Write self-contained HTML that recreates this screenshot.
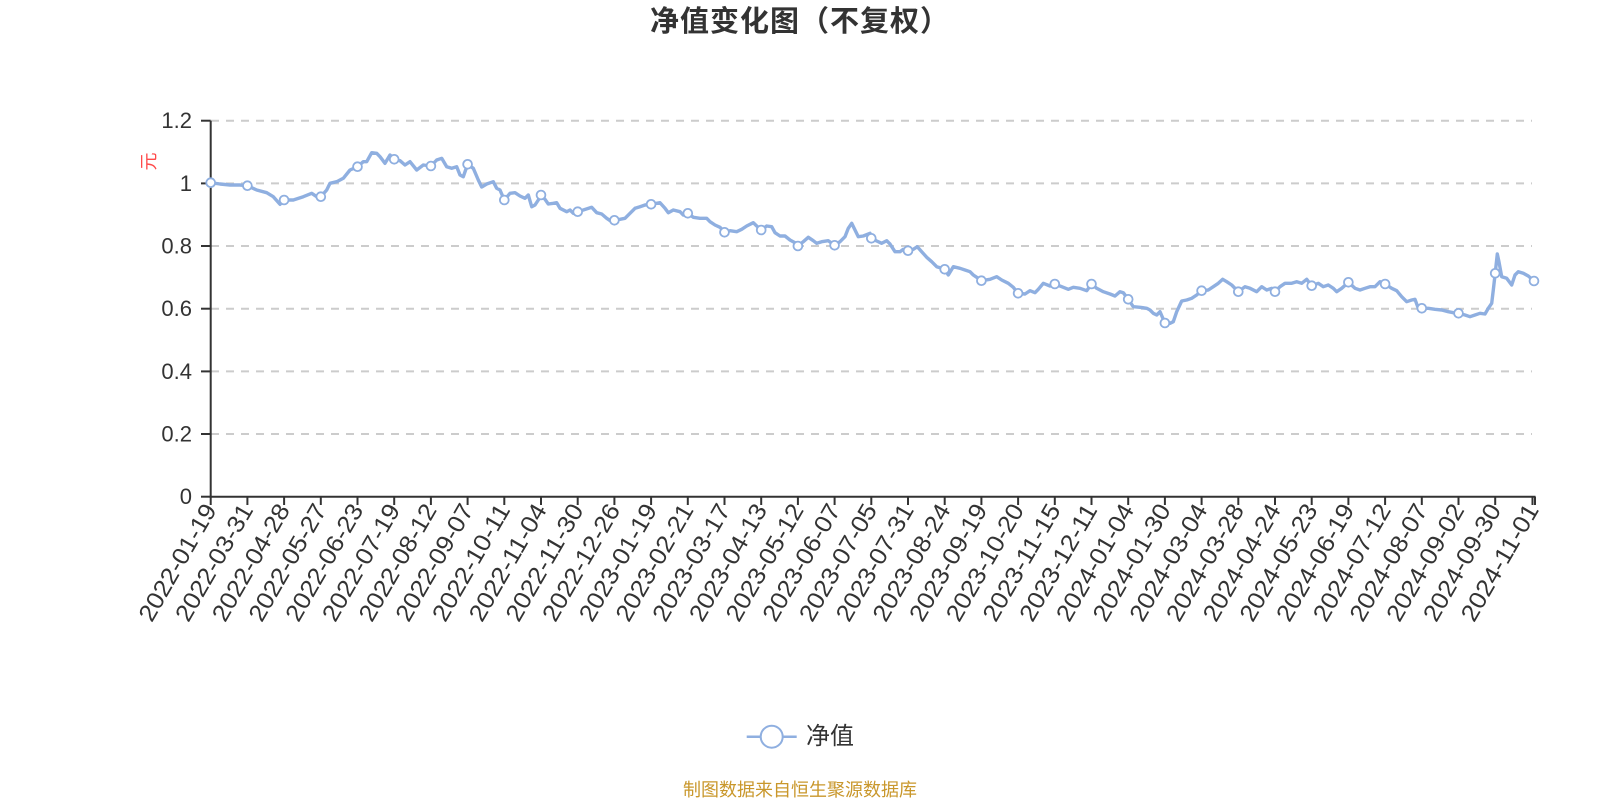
<!DOCTYPE html>
<html>
<head>
<meta charset="utf-8">
<style>
  html,body{margin:0;padding:0;background:#fff;}
  svg{display:block;}
  text{font-family:"Liberation Sans","Noto Sans CJK SC",sans-serif;}
</style>
</head>
<body>
<svg width="1600" height="800" viewBox="0 0 1600 800" xmlns="http://www.w3.org/2000/svg">
  <rect x="0" y="0" width="1600" height="800" fill="#fff"/>
  <!-- Title -->
  <text x="800" y="22" text-anchor="middle" dominant-baseline="central" font-size="29" font-weight="bold" fill="#333" letter-spacing="1">净值变化图（不复权）</text>

  <!-- Y axis name -->
  <text transform="translate(149,161.5) rotate(-90)" text-anchor="middle" dominant-baseline="central" font-size="18" fill="#ff4a4a">元</text>

  <!-- grid lines -->
  <g stroke="#cccccc" stroke-width="2" stroke-dasharray="8 7" fill="none">
    <line x1="211" y1="120.7" x2="1532" y2="120.7"/>
    <line x1="211" y1="183.4" x2="1532" y2="183.4"/>
    <line x1="211" y1="246.0" x2="1532" y2="246.0"/>
    <line x1="211" y1="308.7" x2="1532" y2="308.7"/>
    <line x1="211" y1="371.4" x2="1532" y2="371.4"/>
    <line x1="211" y1="434.0" x2="1532" y2="434.0"/>
  </g>

  <!-- Y labels -->
  <g font-size="22" fill="#333" text-anchor="end" dominant-baseline="central">
    <text x="192" y="120.7">1.2</text>
    <text x="192" y="183.4">1</text>
    <text x="192" y="246.0">0.8</text>
    <text x="192" y="308.7">0.6</text>
    <text x="192" y="371.4">0.4</text>
    <text x="192" y="434.0">0.2</text>
    <text x="192" y="496.7">0</text>
  </g>

  <!-- axes -->
  <g stroke="#333" stroke-width="2" fill="none">
    <line x1="210.7" y1="120.7" x2="210.7" y2="497.7"/>
    <line x1="209.7" y1="496.7" x2="1535.5" y2="496.7"/>
    <line x1="201" y1="120.7" x2="210.7" y2="120.7"/>
    <line x1="201" y1="183.4" x2="210.7" y2="183.4"/>
    <line x1="201" y1="246.0" x2="210.7" y2="246.0"/>
    <line x1="201" y1="308.7" x2="210.7" y2="308.7"/>
    <line x1="201" y1="371.4" x2="210.7" y2="371.4"/>
    <line x1="201" y1="434.0" x2="210.7" y2="434.0"/>
    <line x1="201" y1="496.7" x2="210.7" y2="496.7"/>
  </g>

  <!-- series line -->
  <polyline fill="none" stroke="#8fafe0" stroke-width="3.4" stroke-linejoin="round" stroke-linecap="round" points="
210.7,182.7 220,184 230,185 240,185 247.4,185.7 256.7,190 266.7,192.7 273.3,196.7 280,204.3 284.1,200 286.7,200 293.3,200 303.3,196.7 311.7,193.3 316.7,196.7 320.8,196.7 326.7,190 330,183.3 336.7,181.7 343.3,178.3 350,170 357.5,166.7 363.3,161.7 366.7,161.7 371.7,152.7 376.7,153.3 380,156.7 385,163.3 390,155 394.2,159.3 400,160.7 405,165 410,161.7 416.7,170 423.3,165 430.9,166 436.7,160 441.7,158.3 446.7,166.7 451.7,168.3 456.7,166.7 460,175 463.3,176.7 467.6,164.3 473.3,168.3 478.3,180 481.7,187 486.7,184 493.3,181.7 496.7,188.3 500,190 504.3,200 510,193.3 515,192.7 520,196 525,198.3 528.3,195 531.7,206.7 535,205 538.3,200 541,195 545,199.3 548.3,204 553.3,203.3 556.7,202.7 560,208.3 566.7,211.7 570,210 573.3,213.3 577.7,211.7 583.3,210 591.7,207.3 596.7,212.7 601.7,214 606.7,218.3 611.7,221.7 614.4,220.3 620,219.3 625,218.3 630,213.3 635,208.3 640,206.7 645,205 651.1,204.3 660,202.7 665,208.3 668.3,212.7 673.3,210 680,211.7 683.3,215 687.8,213.3 693.3,217.3 700,218.3 706.7,218.3 710,221.7 715,225 720,227.3 724.5,232.3 730,230.7 736.7,231.7 741.7,229.3 746.7,226 753.3,222.7 756.7,226 761.2,230 766.7,226 771.7,226.7 775,232.7 780,236 785,236 790,240 795,242.7 797.9,246 803.3,241.7 808.3,237.3 813.3,240.7 816.7,243.3 821.7,241.7 828.3,240.7 834.6,245.3 840,241.7 845,236.7 848.3,228.3 851.7,223.3 855,230 858.3,236.7 863.3,236 870,233.3 871.3,238.3 876.7,241 881.7,243.3 886.7,240.7 890,244 895,251.7 900,251.7 903.3,249.3 908,250.7 913.3,249.3 917.3,246.7 921.7,251.7 926.7,257.3 931.7,261.7 936.7,266.7 941.7,268.3 944.7,269.3 948.3,275 953.3,266.7 960,268.3 965,270 970,271.7 973.3,275 976.7,277.3 981.4,280.7 990,279.3 996.7,276.7 1001.7,280 1008.3,283.3 1013.3,287.3 1018.1,293.3 1025,294 1030,290.7 1035,292.7 1038.3,289.3 1043.3,283.3 1050,286 1054.8,284 1061.7,286.7 1068.3,289.3 1073.3,287.3 1080,288.3 1086.7,290.7 1091.5,284 1096.7,288.3 1103.3,291.7 1110,294 1115,296 1120,291.7 1123.3,292.7 1128.2,299.3 1133.3,306.7 1140,307.3 1146.7,308.3 1150,310 1153.3,313.3 1156.7,315 1160,311.7 1164.9,323 1170,323.3 1173.3,321.7 1176.7,311.7 1181.7,301 1186.7,300 1191.7,298.3 1196.7,295 1201.6,290.7 1208.3,290 1213.3,286.7 1218.3,283.3 1222.7,279.3 1226.7,281.7 1231.7,285 1238.3,291.7 1245,286.7 1250,288.3 1256.7,291.7 1261.7,286.7 1266.7,290 1271.7,288.3 1275,291.7 1280,286.7 1285,283.3 1291.7,283.3 1296.7,281.7 1301.7,283.3 1306.7,279.3 1311.7,285.7 1318.3,283.3 1323.3,286.7 1328.3,285 1333.3,288.3 1336.7,291.7 1341.7,288.3 1348.4,282.3 1355,288.3 1360,290 1365,288.3 1370,286.7 1375,286.7 1380,281.7 1385.1,284 1391.7,288.3 1396.7,290.7 1401.7,296.7 1406.7,301.7 1411.7,300 1415,299.3 1418.3,308.3 1421.8,308.3 1428.3,308.3 1435,309.3 1441.7,310 1448.3,311.7 1453.3,312.7 1458.5,313.3 1465,315 1470,316.7 1475,315 1480,313.3 1485,314 1488.3,308.3 1491.7,303.3 1493.3,290 1495.2,273.3 1497.3,254 1499,262 1501.7,276.7 1506.7,278.3 1511.7,285 1515,275 1518.3,271.7 1523.3,273.3 1528.3,276 1534,281"/>

  <!-- markers -->
  <g fill="#fff" stroke="#8fafe0" stroke-width="1.8">
    <circle cx="210.7" cy="182.7" r="4.4"/>
    <circle cx="247.4" cy="185.7" r="4.4"/>
    <circle cx="284.1" cy="200" r="4.4"/>
    <circle cx="320.8" cy="196.7" r="4.4"/>
    <circle cx="357.5" cy="166.7" r="4.4"/>
    <circle cx="394.2" cy="159.3" r="4.4"/>
    <circle cx="430.9" cy="166" r="4.4"/>
    <circle cx="467.6" cy="164.3" r="4.4"/>
    <circle cx="504.3" cy="200" r="4.4"/>
    <circle cx="541" cy="195" r="4.4"/>
    <circle cx="577.7" cy="211.7" r="4.4"/>
    <circle cx="614.4" cy="220.3" r="4.4"/>
    <circle cx="651.1" cy="204.3" r="4.4"/>
    <circle cx="687.8" cy="213.3" r="4.4"/>
    <circle cx="724.5" cy="232.3" r="4.4"/>
    <circle cx="761.2" cy="230" r="4.4"/>
    <circle cx="797.9" cy="246" r="4.4"/>
    <circle cx="834.6" cy="245.3" r="4.4"/>
    <circle cx="871.3" cy="238.3" r="4.4"/>
    <circle cx="908" cy="250.7" r="4.4"/>
    <circle cx="944.7" cy="269.3" r="4.4"/>
    <circle cx="981.4" cy="280.7" r="4.4"/>
    <circle cx="1018.1" cy="293.3" r="4.4"/>
    <circle cx="1054.8" cy="284" r="4.4"/>
    <circle cx="1091.5" cy="284" r="4.4"/>
    <circle cx="1128.2" cy="299.3" r="4.4"/>
    <circle cx="1164.9" cy="323" r="4.4"/>
    <circle cx="1201.6" cy="290.7" r="4.4"/>
    <circle cx="1238.3" cy="291.7" r="4.4"/>
    <circle cx="1275" cy="291.7" r="4.4"/>
    <circle cx="1311.7" cy="285.7" r="4.4"/>
    <circle cx="1348.4" cy="282.3" r="4.4"/>
    <circle cx="1385.1" cy="284" r="4.4"/>
    <circle cx="1421.8" cy="308.3" r="4.4"/>
    <circle cx="1458.5" cy="313.3" r="4.4"/>
    <circle cx="1495.2" cy="273.3" r="4.4"/>
    <circle cx="1534" cy="281" r="4.4"/>
  </g>

  <!-- x ticks -->
  <g stroke="#333" stroke-width="2">
    <line x1="210.7" y1="496.7" x2="210.7" y2="505"/>
    <line x1="247.4" y1="496.7" x2="247.4" y2="505"/>
    <line x1="284.1" y1="496.7" x2="284.1" y2="505"/>
    <line x1="320.8" y1="496.7" x2="320.8" y2="505"/>
    <line x1="357.5" y1="496.7" x2="357.5" y2="505"/>
    <line x1="394.2" y1="496.7" x2="394.2" y2="505"/>
    <line x1="430.9" y1="496.7" x2="430.9" y2="505"/>
    <line x1="467.6" y1="496.7" x2="467.6" y2="505"/>
    <line x1="504.3" y1="496.7" x2="504.3" y2="505"/>
    <line x1="541" y1="496.7" x2="541" y2="505"/>
    <line x1="577.7" y1="496.7" x2="577.7" y2="505"/>
    <line x1="614.4" y1="496.7" x2="614.4" y2="505"/>
    <line x1="651.1" y1="496.7" x2="651.1" y2="505"/>
    <line x1="687.8" y1="496.7" x2="687.8" y2="505"/>
    <line x1="724.5" y1="496.7" x2="724.5" y2="505"/>
    <line x1="761.2" y1="496.7" x2="761.2" y2="505"/>
    <line x1="797.9" y1="496.7" x2="797.9" y2="505"/>
    <line x1="834.6" y1="496.7" x2="834.6" y2="505"/>
    <line x1="871.3" y1="496.7" x2="871.3" y2="505"/>
    <line x1="908" y1="496.7" x2="908" y2="505"/>
    <line x1="944.7" y1="496.7" x2="944.7" y2="505"/>
    <line x1="981.4" y1="496.7" x2="981.4" y2="505"/>
    <line x1="1018.1" y1="496.7" x2="1018.1" y2="505"/>
    <line x1="1054.8" y1="496.7" x2="1054.8" y2="505"/>
    <line x1="1091.5" y1="496.7" x2="1091.5" y2="505"/>
    <line x1="1128.2" y1="496.7" x2="1128.2" y2="505"/>
    <line x1="1164.9" y1="496.7" x2="1164.9" y2="505"/>
    <line x1="1201.6" y1="496.7" x2="1201.6" y2="505"/>
    <line x1="1238.3" y1="496.7" x2="1238.3" y2="505"/>
    <line x1="1275" y1="496.7" x2="1275" y2="505"/>
    <line x1="1311.7" y1="496.7" x2="1311.7" y2="505"/>
    <line x1="1348.4" y1="496.7" x2="1348.4" y2="505"/>
    <line x1="1385.1" y1="496.7" x2="1385.1" y2="505"/>
    <line x1="1421.8" y1="496.7" x2="1421.8" y2="505"/>
    <line x1="1458.5" y1="496.7" x2="1458.5" y2="505"/>
    <line x1="1495.2" y1="496.7" x2="1495.2" y2="505"/>
    <line x1="1532.5" y1="496.7" x2="1532.5" y2="505"/>
    <line x1="1535" y1="496.7" x2="1535" y2="505"/>
  </g>

  <!-- x labels -->
  <g font-size="24" fill="#333" text-anchor="end" dominant-baseline="central">
    <text transform="translate(210.7,506) rotate(-60)" textLength="131" lengthAdjust="spacingAndGlyphs">2022-01-19</text>
    <text transform="translate(247.4,506) rotate(-60)" textLength="131" lengthAdjust="spacingAndGlyphs">2022-03-31</text>
    <text transform="translate(284.1,506) rotate(-60)" textLength="131" lengthAdjust="spacingAndGlyphs">2022-04-28</text>
    <text transform="translate(320.8,506) rotate(-60)" textLength="131" lengthAdjust="spacingAndGlyphs">2022-05-27</text>
    <text transform="translate(357.5,506) rotate(-60)" textLength="131" lengthAdjust="spacingAndGlyphs">2022-06-23</text>
    <text transform="translate(394.2,506) rotate(-60)" textLength="131" lengthAdjust="spacingAndGlyphs">2022-07-19</text>
    <text transform="translate(430.9,506) rotate(-60)" textLength="131" lengthAdjust="spacingAndGlyphs">2022-08-12</text>
    <text transform="translate(467.6,506) rotate(-60)" textLength="131" lengthAdjust="spacingAndGlyphs">2022-09-07</text>
    <text transform="translate(504.3,506) rotate(-60)" textLength="131" lengthAdjust="spacingAndGlyphs">2022-10-11</text>
    <text transform="translate(541,506) rotate(-60)" textLength="131" lengthAdjust="spacingAndGlyphs">2022-11-04</text>
    <text transform="translate(577.7,506) rotate(-60)" textLength="131" lengthAdjust="spacingAndGlyphs">2022-11-30</text>
    <text transform="translate(614.4,506) rotate(-60)" textLength="131" lengthAdjust="spacingAndGlyphs">2022-12-26</text>
    <text transform="translate(651.1,506) rotate(-60)" textLength="131" lengthAdjust="spacingAndGlyphs">2023-01-19</text>
    <text transform="translate(687.8,506) rotate(-60)" textLength="131" lengthAdjust="spacingAndGlyphs">2023-02-21</text>
    <text transform="translate(724.5,506) rotate(-60)" textLength="131" lengthAdjust="spacingAndGlyphs">2023-03-17</text>
    <text transform="translate(761.2,506) rotate(-60)" textLength="131" lengthAdjust="spacingAndGlyphs">2023-04-13</text>
    <text transform="translate(797.9,506) rotate(-60)" textLength="131" lengthAdjust="spacingAndGlyphs">2023-05-12</text>
    <text transform="translate(834.6,506) rotate(-60)" textLength="131" lengthAdjust="spacingAndGlyphs">2023-06-07</text>
    <text transform="translate(871.3,506) rotate(-60)" textLength="131" lengthAdjust="spacingAndGlyphs">2023-07-05</text>
    <text transform="translate(908,506) rotate(-60)" textLength="131" lengthAdjust="spacingAndGlyphs">2023-07-31</text>
    <text transform="translate(944.7,506) rotate(-60)" textLength="131" lengthAdjust="spacingAndGlyphs">2023-08-24</text>
    <text transform="translate(981.4,506) rotate(-60)" textLength="131" lengthAdjust="spacingAndGlyphs">2023-09-19</text>
    <text transform="translate(1018.1,506) rotate(-60)" textLength="131" lengthAdjust="spacingAndGlyphs">2023-10-20</text>
    <text transform="translate(1054.8,506) rotate(-60)" textLength="131" lengthAdjust="spacingAndGlyphs">2023-11-15</text>
    <text transform="translate(1091.5,506) rotate(-60)" textLength="131" lengthAdjust="spacingAndGlyphs">2023-12-11</text>
    <text transform="translate(1128.2,506) rotate(-60)" textLength="131" lengthAdjust="spacingAndGlyphs">2024-01-04</text>
    <text transform="translate(1164.9,506) rotate(-60)" textLength="131" lengthAdjust="spacingAndGlyphs">2024-01-30</text>
    <text transform="translate(1201.6,506) rotate(-60)" textLength="131" lengthAdjust="spacingAndGlyphs">2024-03-04</text>
    <text transform="translate(1238.3,506) rotate(-60)" textLength="131" lengthAdjust="spacingAndGlyphs">2024-03-28</text>
    <text transform="translate(1275,506) rotate(-60)" textLength="131" lengthAdjust="spacingAndGlyphs">2024-04-24</text>
    <text transform="translate(1311.7,506) rotate(-60)" textLength="131" lengthAdjust="spacingAndGlyphs">2024-05-23</text>
    <text transform="translate(1348.4,506) rotate(-60)" textLength="131" lengthAdjust="spacingAndGlyphs">2024-06-19</text>
    <text transform="translate(1385.1,506) rotate(-60)" textLength="131" lengthAdjust="spacingAndGlyphs">2024-07-12</text>
    <text transform="translate(1421.8,506) rotate(-60)" textLength="131" lengthAdjust="spacingAndGlyphs">2024-08-07</text>
    <text transform="translate(1458.5,506) rotate(-60)" textLength="131" lengthAdjust="spacingAndGlyphs">2024-09-02</text>
    <text transform="translate(1495.2,506) rotate(-60)" textLength="131" lengthAdjust="spacingAndGlyphs">2024-09-30</text>
    <text transform="translate(1533,506) rotate(-60)" textLength="131" lengthAdjust="spacingAndGlyphs">2024-11-01</text>
  </g>

  <!-- legend -->
  <line x1="746.7" y1="736.7" x2="796.7" y2="736.7" stroke="#8fafe0" stroke-width="2.5"/>
  <circle cx="771.7" cy="736.7" r="11" fill="#fff" stroke="#8fafe0" stroke-width="2"/>
  <text x="806" y="736.7" font-size="24" fill="#333" dominant-baseline="central">净值</text>

  <!-- footer -->
  <text x="800" y="790" text-anchor="middle" dominant-baseline="central" font-size="18" fill="#c9972b">制图数据来自恒生聚源数据库</text>
</svg>
</body>
</html>
